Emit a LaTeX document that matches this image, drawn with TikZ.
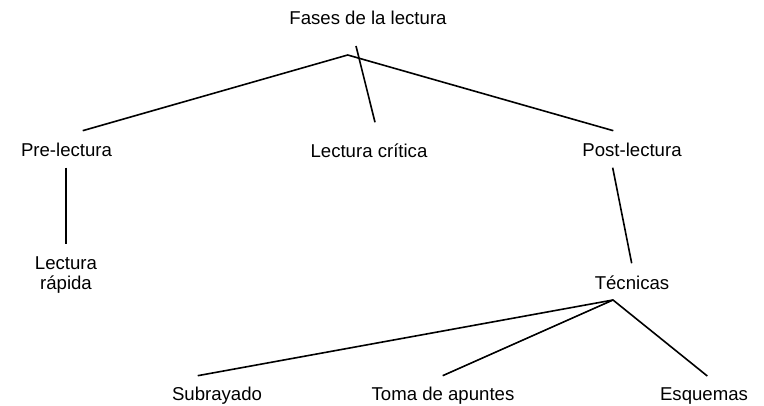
\documentclass[tikz,border=0pt]{standalone}
\usepackage{fontspec}
\setmainfont{Liberation Sans}
\begin{document}
\begin{tikzpicture}[x=1pt,y=-1pt,
  lbl/.style={inner sep=0pt, anchor=base, font=\fontsize{18.6}{20}\selectfont},
  conn/.style={line width=1.6pt}]
\useasboundingbox (0,0) rectangle (764,406);
% labels
\node[lbl] (fases) at (368,25) {Fases de la lectura};
\node[lbl] (pre) at (66.5,157) {Pre-lectura};
\node[lbl] (critica) at (369,158) {Lectura crítica};
\node[lbl] (post) at (632,157) {Post-lectura};
\node[lbl, align=center] (rapida) at (66,290) {Lectura\\rápida};
\node[lbl] (tecnicas) at (632,290) {Técnicas};
\node[lbl] (sub) at (217,400) {Subrayado};
\node[lbl] (toma) at (443,400) {Toma de apuntes};
\node[lbl] (esq) at (704,400) {Esquemas};
% connector ends
\coordinate (fapex) at (347.7,55);
\coordinate (preT) at (82.7,130.7);
\coordinate (postT) at (613.3,130.7);
\coordinate (critS) at (356,46);
\coordinate (critE) at (375,122.3);
\coordinate (preB) at (66,167.7);
\coordinate (rapT) at (66,244.3);
\coordinate (postB) at (612.7,167.7);
\coordinate (tecT) at (631.7,263.3);
\coordinate (tapex) at (613,300);
\coordinate (subT) at (197.7,375.7);
\coordinate (tomaT) at (442.7,375.7);
\coordinate (esqT) at (707.3,376);
% connectors
\draw[conn] (preT) -- (fapex) -- (postT);
\draw[conn] (critS) -- (critE);
\draw[conn] (preB) -- (rapT);
\draw[conn] (postB) -- (tecT);
\draw[conn] (subT) -- (tapex) -- (esqT);
\draw[conn] (tapex) -- (tomaT);
\end{tikzpicture}
\end{document}
